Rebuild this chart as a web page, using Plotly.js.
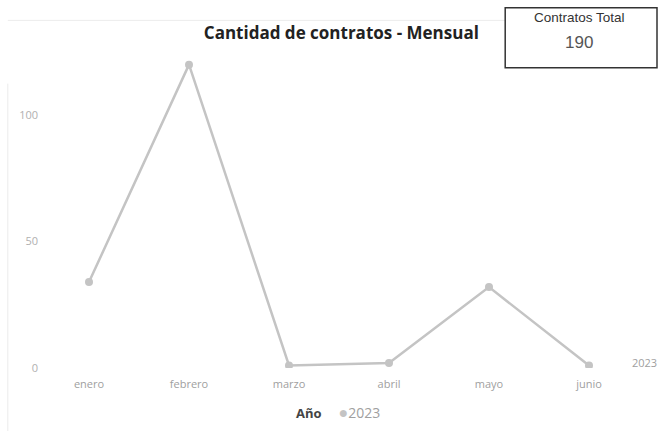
<!DOCTYPE html>
<html>
<head>
<meta charset="utf-8">
<script src="https://cdn.plot.ly/plotly-3.0.1.min.js"></script>
<style>
html,body{margin:0;padding:0;background:#fff;}
#chart{width:659px;height:431px;}
</style>
</head>
<body>
<div id="chart"></div>
<script>
const months = ["enero", "febrero", "marzo", "abril", "mayo", "junio"];
const contratos2023 = [34, 120, 1, 2, 32, 1];
const seriesName = "2023";
const legendTitle = "Año";
const yTicks = [0, 50, 100];
const totalLabel = "Contratos Total";
const totalValue = contratos2023.reduce((a, b) => a + b, 0);

const lineColor = "#c4c4c4";

const trace = {
  type: "scatter",
  mode: "lines+markers",
  x: months,
  y: contratos2023,
  name: seriesName,
  showlegend: false,
  line: {color: lineColor, width: 2.5},
  marker: {color: lineColor, size: 8},
  hoverinfo: "x+y"
};

const layout = {
  width: 659,
  height: 431,
  margin: {l: 39, r: 20, t: 52, b: 63, autoexpand: false},
  paper_bgcolor: "#ffffff",
  plot_bgcolor: "#ffffff",
  font: {family: "Open Sans, sans-serif", color: "#a0a0a0"},
  title: {
    text: "Cantidad de contratos - Mensual",
    font: {family: "Open Sans, sans-serif", size: 17, color: "#222222", weight: "bold"},
    x: 0.518, xanchor: "center",
    yref: "container", y: 0.923, yanchor: "middle"
  },
  xaxis: {
    type: "category",
    range: [-0.5, 5.5],
    showgrid: false, zeroline: false, showline: false,
    ticks: "",
    automargin: false,
    ticklabelstandoff: 8,
    tickfont: {size: 11, color: "#a0a0a0"}
  },
  yaxis: {
    range: [0, 125],
    tickvals: yTicks,
    showgrid: false, zeroline: false, showline: false,
    ticks: "",
    automargin: false,
    tickfont: {size: 11, color: "#b0b0b0"}
  },
  showlegend: false,
  shapes: [
    {type: "line", xref: "paper", yref: "paper", x0: -0.052, x1: -0.052, y0: -0.2, y1: 0.9, line: {color: "#ececec", width: 1}},
    {type: "line", xref: "paper", yref: "paper", x0: -0.052, x1: 0.777, y0: 1.1, y1: 1.1, line: {color: "#ececec", width: 1}},
    {type: "rect", xref: "paper", yref: "paper", x0: 0.777, x1: 1.03, y0: 0.95, y1: 1.14, line: {color: "#333333", width: 1.5}, fillcolor: "rgba(255,255,255,0)"}
  ],
  annotations: [
    {xref: "paper", yref: "paper", x: 0.9, y: 1.11, text: totalLabel, showarrow: false,
     font: {family: "Liberation Sans, Arial, sans-serif", size: 13.5, color: "#333333"}, xanchor: "center", yanchor: "middle"},
    {xref: "paper", yref: "paper", x: 0.9, y: 1.03, text: String(totalValue), showarrow: false,
     font: {family: "Liberation Sans, Arial, sans-serif", size: 17, color: "#555555"}, xanchor: "center", yanchor: "middle"},
    {xref: "x", yref: "y", x: months[months.length - 1], y: contratos2023[contratos2023.length - 1], text: seriesName,
     showarrow: false, xanchor: "left", xshift: 41, yshift: 3, font: {size: 11, color: "#a0a0a0"}},
    {xref: "paper", yref: "paper", x: 0.499, y: -0.139, xanchor: "center", yanchor: "middle", showarrow: false,
     text: "<b><span style='color:#444444'>" + legendTitle + "</span></b>&nbsp;&nbsp;&nbsp;&nbsp;&nbsp;<span style='color:" + lineColor + ";font-size:16px'>●</span><span style='font-size:14px'>" + seriesName + "</span>",
     font: {family: "Open Sans, sans-serif", size: 13, color: "#a0a0a0"}}
  ]
};

Plotly.newPlot("chart", [trace], layout, {displayModeBar: false, staticPlot: true});
</script>
</body>
</html>
